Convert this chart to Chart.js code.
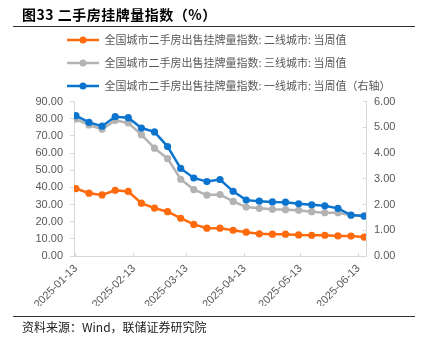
<!DOCTYPE html>
<html>
<head>
<meta charset="utf-8">
<script src="https://cdn.jsdelivr.net/npm/chart.js@4/dist/chart.umd.min.js"></script>
<style>
  html, body { margin: 0; padding: 0; background: #fff; }
  #wrap { position: relative; width: 426px; height: 338px; overflow: hidden; }
  #chart { position: absolute; left: 0; top: 0; }
  .title { position: absolute; left: 22px; top: 4px; font: bold 14px "Noto Sans CJK SC", sans-serif; letter-spacing: 0.5px; color: #000; white-space: nowrap; }
  .rule { position: absolute; left: 13px; width: 402px; border-top: 1px solid #333; }
  .source { position: absolute; left: 22px; top: 318px; font: 12px "Noto Sans CJK SC", sans-serif; color: #222; white-space: nowrap; }
</style>
</head>
<body>
<div id="wrap">
  <canvas id="chart" width="426" height="338"></canvas>
  <div class="title">图33 二手房挂牌量指数（%）</div>
  <div class="rule" style="top:26px"></div>
  <div class="rule" style="top:316px"></div>
  <div class="source">资料来源：Wind，联储证券研究院</div>
</div>
<script>
// weekly observation dates
const weeks = [
  "2025-01-13", "2025-01-20", "2025-01-27", "2025-02-03", "2025-02-10", "2025-02-17",
  "2025-02-24", "2025-03-03", "2025-03-10", "2025-03-17", "2025-03-24", "2025-03-31",
  "2025-04-07", "2025-04-14", "2025-04-21", "2025-04-28", "2025-05-05", "2025-05-12",
  "2025-05-19", "2025-05-26", "2025-06-02", "2025-06-09", "2025-06-16"
];

// x axis tick labels (13th of each month)
const xTickLabels = ["2025-01-13", "2025-02-13", "2025-03-13", "2025-04-13", "2025-05-13", "2025-06-13"];

// series, left axis
const tier2 = [39.3, 36.6, 35.6, 38.3, 37.6, 30.8, 27.9, 25.8, 22.0, 18.4, 16.2, 16.2,
  15.0, 13.9, 12.9, 12.7, 12.7, 12.3, 12.1, 12.1, 11.7, 11.6, 11.0];
const tier3 = [79.8, 76.3, 73.8, 79.0, 77.5, 70.7, 62.8, 56.7, 44.7, 38.7, 35.5, 35.8,
  31.8, 28.5, 27.8, 27.2, 27.0, 26.6, 25.8, 25.2, 25.2, 23.7, 23.3];
// series, right axis
const tier1 = [5.45, 5.19, 5.04, 5.41, 5.37, 4.97, 4.82, 4.25, 3.40, 3.03, 2.89, 2.97,
  2.51, 2.17, 2.13, 2.10, 2.09, 2.03, 1.99, 1.95, 1.85, 1.59, 1.55];

const seriesNames = [
  "全国城市二手房出售挂牌量指数: 二线城市: 当周值",
  "全国城市二手房出售挂牌量指数: 三线城市: 当周值",
  "全国城市二手房出售挂牌量指数: 一线城市: 当周值（右轴）"
];

const colors = ["#FF6A0D", "#B3B3B3", "#0B74CF"];
const fontFamily = "'Liberation Sans', Arial, sans-serif";
const cjkFont = "'Noto Sans CJK SC', sans-serif";

// day offset from first week, used as the x value
const day0 = Date.parse(weeks[0]);
const dayOf = d => (Date.parse(d) - day0) / 86400000;

function toPoints(values) {
  return values.map((v, i) => ({ x: dayOf(weeks[i]), y: v }));
}

// legend symbol: short line with a dot in the middle
function legendSymbol(color) {
  const c = document.createElement("canvas");
  c.width = 32;
  c.height = 8;
  const g = c.getContext("2d");
  g.strokeStyle = color;
  g.lineWidth = 2.5;
  g.beginPath();
  g.moveTo(0, 4);
  g.lineTo(32, 4);
  g.stroke();
  g.fillStyle = color;
  g.beginPath();
  g.arc(16, 4, 3.5, 0, Math.PI * 2);
  g.fill();
  return c;
}

function lineDataset(i, values, axis, order) {
  return {
    label: seriesNames[i],
    data: toPoints(values),
    yAxisID: axis,
    order: order,
    borderColor: colors[i],
    backgroundColor: colors[i],
    pointBackgroundColor: colors[i],
    pointBorderWidth: 0,
    pointRadius: 3.6,
    borderWidth: 2.5,
    tension: 0,
    fill: false
  };
}

// push the legend block to the right so rows start under the title
const legendShift = {
  id: "legendShift",
  afterLayout(chart) {
    chart.legend.left = 55;
  }
};

new Chart(document.getElementById("chart"), {
  type: "line",
  data: {
    datasets: [
      lineDataset(0, tier2, "y", 1),
      lineDataset(1, tier3, "y", 2),
      lineDataset(2, tier1, "y1", 0)
    ]
  },
  options: {
    responsive: false,
    animation: false,
    layout: { padding: { top: 22.5, bottom: 32, left: 0, right: 0 } },
    plugins: {
      tooltip: { enabled: false },
      legend: {
        position: "top",
        align: "start",
        labels: {
          usePointStyle: true,
          pointStyleWidth: 32,
          boxHeight: 11,
          padding: 12,
          color: "#595959",
          font: { family: cjkFont, size: 11 },
          sort: (a, b) => a.datasetIndex - b.datasetIndex,
          generateLabels(chart) {
            const items = Chart.defaults.plugins.legend.labels.generateLabels(chart);
            items.forEach(it => { it.pointStyle = legendSymbol(colors[it.datasetIndex]); });
            return items;
          }
        }
      }
    },
    scales: {
      x: {
        type: "linear",
        min: -1,
        max: 155,
        afterBuildTicks: axis => {
          axis.ticks = xTickLabels.map(d => ({ value: dayOf(d) }));
        },
        afterFit: axis => { axis.height = 50; },
        border: { color: "#D9D9D9" },
        grid: { drawOnChartArea: false, color: "#D9D9D9", tickLength: -3 },
        ticks: {
          autoSkip: false,
          minRotation: 45,
          maxRotation: 45,
          padding: 9,
          color: "#595959",
          font: { family: fontFamily, size: 11 },
          callback: (v, i) => xTickLabels[i]
        }
      },
      y: {
        position: "left",
        min: 0,
        max: 90,
        afterFit: axis => { axis.width = 74; },
        border: { color: "#D9D9D9" },
        grid: { drawOnChartArea: false, color: "#D9D9D9", tickLength: 4 },
        ticks: {
          stepSize: 10,
          padding: 7,
          color: "#595959",
          font: { family: fontFamily, size: 11 },
          callback: v => v.toFixed(2)
        }
      },
      y1: {
        position: "right",
        min: 0,
        max: 6,
        afterFit: axis => { axis.width = 60; },
        border: { color: "#D9D9D9" },
        grid: { drawOnChartArea: false, color: "#D9D9D9", tickLength: -3 },
        ticks: {
          stepSize: 1,
          padding: 11,
          color: "#595959",
          font: { family: fontFamily, size: 11 },
          callback: v => v.toFixed(2)
        }
      }
    }
  },
  plugins: [legendShift]
});
</script>
</body>
</html>
